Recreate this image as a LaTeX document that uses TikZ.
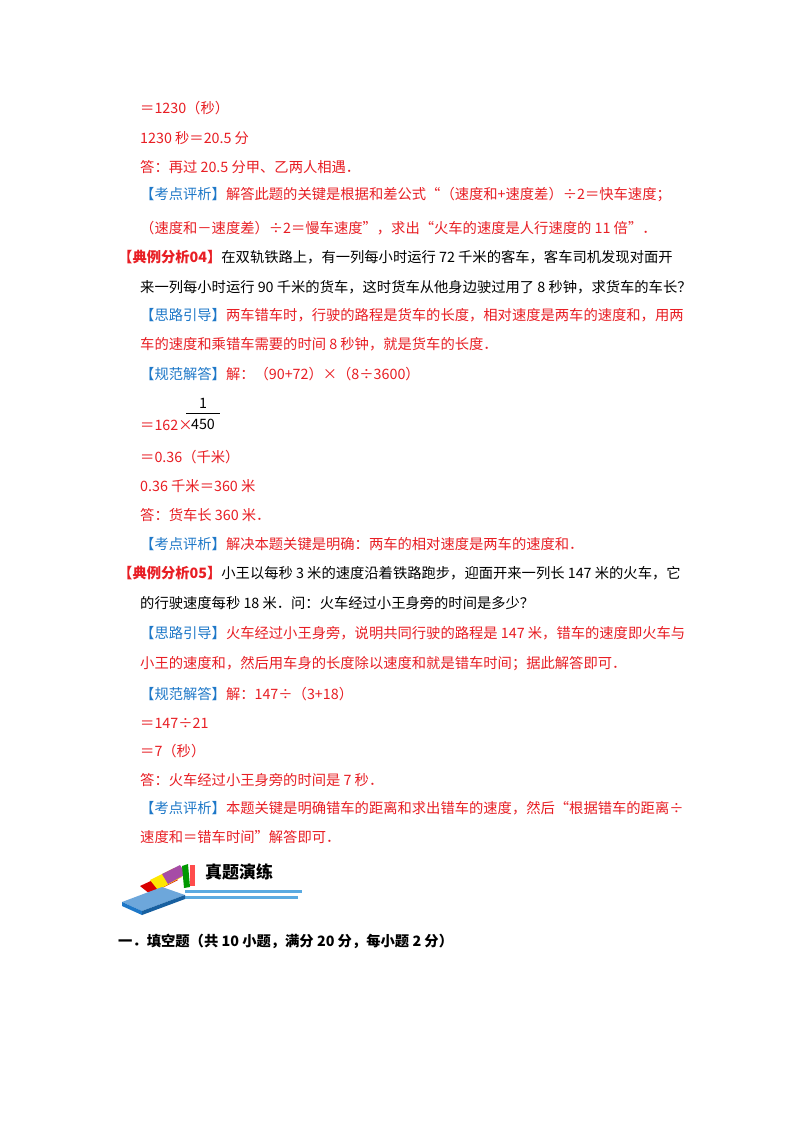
\documentclass[tikz,border=0pt]{standalone}
\usepackage{fontspec}
\setmainfont{Liberation Serif}
\newfontfamily\cjk{Noto Sans CJK SC}
\definecolor{ansred}{RGB}{232,30,36}
\definecolor{tagblue}{RGB}{30,120,200}
\definecolor{barblue}{RGB}{90,170,225}
\newcommand{\tg}[1]{\textcolor{tagblue}{#1}}
\newcommand{\rd}[1]{\textcolor{ansred}{#1}}
\begin{document}
\begin{tikzpicture}[x=1pt,y=-1pt,
  txt/.style={anchor=west,inner sep=0pt,font=\cjk\fontsize{14.3}{17}\selectfont},
  red/.style={txt,text=ansred},
  bold/.style={txt,font=\cjk\bfseries\fontsize{14.3}{17}\selectfont}]
  \useasboundingbox[fill=white] (0,0) rectangle (800,1132);
  % worked example 03, end
  \node[red] (l1) at (140,108) {＝1230（秒）};
  \node[red] (l2) at (140,138) {1230 秒＝20.5 分};
  \node[red] (l3) at (140,167) {答：再过 20.5 分甲、乙两人相遇．};
  \node[red] (l4) at (140,195) {\tg{【考点评析】}解答此题的关键是根据和差公式“（速度和+速度差）÷2＝快车速度；};
  \node[red] (l5) at (140,228) {（速度和－速度差）÷2＝慢车速度”，求出“火车的速度是人行速度的 11 倍”．};
  % worked example 04
  \node[txt] (l6) at (118,257) {\rd{\bfseries【典例分析04】}在双轨铁路上，有一列每小时运行 72 千米的客车，客车司机发现对面开};
  \node[txt] (l7) at (140,287) {来一列每小时运行 90 千米的货车，这时货车从他身边驶过用了 8 秒钟，求货车的车长？};
  \node[red] (l8) at (140,315) {\tg{【思路引导】}两车错车时，行驶的路程是货车的长度，相对速度是两车的速度和，用两};
  \node[red] (l9) at (140,344) {车的速度和乘错车需要的时间 8 秒钟，就是货车的长度．};
  \node[red] (l10) at (140,374) {\tg{【规范解答】}解：（90+72）×（8÷3600）};
  \node[red] (l11) at (140,425) {＝162×};
  \node[txt,inner sep=0pt,anchor=center] (num) at (203,403) {1};
  \node[txt,inner sep=0pt,anchor=center] (den) at (203,424) {450};
  \draw[thin] (186,413) -- (220,413);
  \node[red] (l12) at (140,457) {＝0.36（千米）};
  \node[red] (l13) at (140,486) {0.36 千米＝360 米};
  \node[red] (l14) at (140,515) {答：货车长 360 米．};
  \node[red] (l15) at (140,544) {\tg{【考点评析】}解决本题关键是明确：两车的相对速度是两车的速度和．};
  % worked example 05
  \node[txt] (l16) at (118,573) {\rd{\bfseries【典例分析05】}小王以每秒 3 米的速度沿着铁路跑步，迎面开来一列长 147 米的火车，它};
  \node[txt] (l17) at (140,603) {的行驶速度每秒 18 米．问：火车经过小王身旁的时间是多少？};
  \node[red] (l18) at (140,633) {\tg{【思路引导】}火车经过小王身旁，说明共同行驶的路程是 147 米，错车的速度即火车与};
  \node[red] (l19) at (140,664) {小王的速度和，然后用车身的长度除以速度和就是错车时间；据此解答即可．};
  \node[red] (l20) at (140,694) {\tg{【规范解答】}解：147÷（3+18）};
  \node[red] (l21) at (140,723) {＝147÷21};
  \node[red] (l22) at (140,751) {＝7（秒）};
  \node[red] (l23) at (140,780) {答：火车经过小王身旁的时间是 7 秒．};
  \node[red] (l24) at (140,808) {\tg{【考点评析】}本题关键是明确错车的距离和求出错车的速度，然后“根据错车的距离÷};
  \node[red] (l25) at (140,837) {速度和＝错车时间”解答即可．};
  % section banner
  \fill[barblue] (185,890) rectangle (302,893);
  \fill[barblue] (185,896) rectangle (298,899);
  \fill[red!85!black] (140,886) -- (168,873) -- (178,880) -- (150,894) -- cycle;
  \fill[yellow!90!orange] (150,880) -- (174,868) -- (182,877) -- (158,890) -- cycle;
  \fill[violet!70] (162,874) -- (180,865) -- (186,874) -- (168,884) -- cycle;
  \fill[green!60!black] (182,866) -- (188,864) -- (190,887) -- (184,888) -- cycle;
  \fill[red!70] (190,865) -- (195,865) -- (195,886) -- (190,886) -- cycle;
  \fill[tagblue!65] (122,902) -- (162,887) -- (185,895) -- (142,911) -- cycle;
  \fill[tagblue] (122,902) -- (142,911) -- (142,915) -- (122,906) -- cycle;
  \fill[tagblue!80!black] (142,911) -- (185,895) -- (185,899) -- (142,915) -- cycle;
  \node[bold,font=\cjk\bfseries\fontsize{17}{20}\selectfont] (head) at (205,872) {真题演练};
  \node[bold] (sec) at (118,941) {一．填空题（共 10 小题，满分 20 分，每小题 2 分）};
\end{tikzpicture}
\end{document}
